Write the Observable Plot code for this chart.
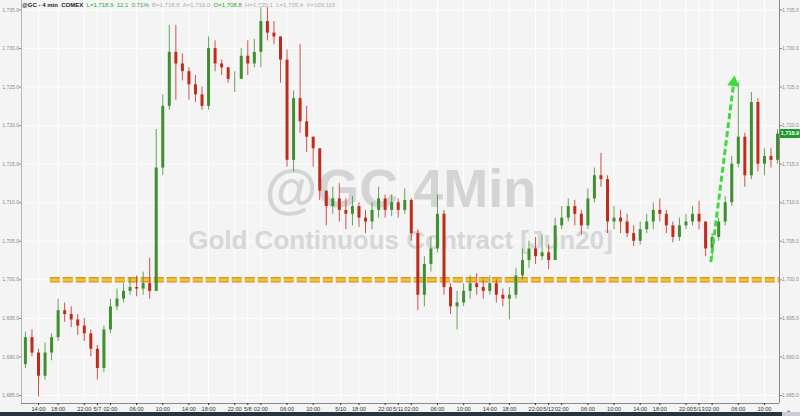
<!DOCTYPE html>
<html><head><meta charset="utf-8">
<script src="https://cdn.jsdelivr.net/npm/d3@7"></script>
<script src="https://cdn.jsdelivr.net/npm/@observablehq/plot@0.6"></script>
<style>
body{margin:0;background:#fff;}
#wrap{position:relative;width:800px;height:416px;overflow:hidden;background:#f4f4f4;font-family:"Liberation Sans",Arial,sans-serif;}
#wrap svg{position:absolute;left:0;top:0;}
#hdr{position:absolute;left:22px;top:1px;font-size:6px;line-height:8px;white-space:pre;color:#333;}
#hdr .g{color:#2fa82f;} #hdr .s{color:#b0b0b0;} #hdr .k{color:#222;font-weight:bold;}
#last{position:absolute;left:780px;width:20px;height:9px;background:#1f9a2c;color:#fff;font-size:5.5px;font-weight:bold;line-height:9px;text-align:center;border-radius:1px;}
#strip{position:absolute;left:0;top:412px;width:782px;height:4px;background:#2b333d;}
#strip2{position:absolute;left:782px;top:412px;width:18px;height:4px;background:#c9ced4;}
</style></head>
<body>
<div id="wrap">
  <div id="hdr"></div>
  <div id="strip"></div><div id="strip2"></div>
</div>
<script>
// ---- data (hourly candles, 5/6 11:30 ET -> 5/13 ~12:30 ET, trading hours only)
const firstOpen = 1689.0;
const closes = [1692.5,1690.5,1687.5,1690.5,1692.5,1696.0,1695.5,1694.8,1694.0,1693.0,
1691.0,1688.5,1693.5,1696.5,1697.5,1698.5,1699.0,1698.8,1699.5,1698.5,
1714.5,1722.5,1729.5,1728.0,1727.0,1725.3,1724.0,1722.5,1730.0,1728.0,
1727.5,1726.0,1726.0,1729.0,1728.0,1729.5,1733.5,1732.0,1731.5,1728.5,
1715.5,1723.5,1720.5,1718.5,1717.0,1711.5,1709.5,1710.5,1709.0,1708.5,
1709.5,1708.0,1707.5,1709.0,1710.5,1709.0,1710.0,1709.0,1710.3,1706.0,
1698.0,1702.0,1704.0,1708.5,1699.0,1696.5,1697.0,1698.5,1699.5,1699.0,
1698.5,1699.5,1698.0,1697.5,1698.0,1700.5,1702.5,1704.0,1703.0,1703.5,
1702.5,1707.0,1708.0,1709.5,1708.5,1707.0,1710.5,1713.5,1713.0,1707.5,
1708.0,1707.5,1706.0,1705.0,1706.5,1707.5,1709.0,1708.5,1707.0,1705.5,
1707.0,1707.5,1708.5,1707.5,1704.0,1705.5,1707.5,1710.0,1715.0,1718.5,
1713.5,1723.0,1715.0,1716.0,1715.5,1718.9];
const highs = [1693.2,1693.5,1691.0,1691.8,1693.0,1697.5,1697.0,1696.5,1695.5,1695.0,
1693.5,1691.5,1694.0,1697.5,1698.8,1699.5,1700.3,1700.5,1701.0,1702.8,
1719.5,1724.0,1733.0,1733.0,1729.3,1727.5,1726.5,1725.0,1731.5,1731.0,
1728.5,1727.5,1727.0,1730.0,1731.0,1731.2,1735.3,1735.3,1733.5,1729.8,
1729.8,1724.5,1730.5,1722.5,1718.5,1716.5,1711.5,1712.0,1712.5,1710.5,
1710.8,1710.0,1709.0,1710.0,1712.0,1711.0,1711.0,1710.5,1711.8,1710.5,
1706.5,1703.0,1705.5,1711.0,1709.0,1699.5,1698.5,1699.5,1700.5,1700.8,
1700.0,1700.5,1700.0,1698.8,1699.0,1701.5,1704.0,1705.0,1705.5,1705.8,
1704.5,1708.0,1709.5,1710.5,1710.3,1709.0,1711.8,1714.5,1716.4,1713.5,
1709.5,1709.0,1708.5,1707.0,1707.5,1708.5,1710.0,1710.5,1709.0,1707.5,
1708.0,1708.5,1709.5,1710.2,1707.5,1706.0,1708.0,1710.8,1716.0,1725.6,
1719.0,1724.3,1723.5,1717.0,1717.0,1719.5];
const lows = [1688.5,1690.0,1684.8,1687.0,1689.5,1692.0,1694.5,1693.8,1692.8,1692.0,
1690.0,1687.0,1688.0,1693.0,1696.0,1697.0,1698.0,1697.8,1698.0,1697.5,
1699.5,1713.5,1722.0,1723.3,1725.8,1723.3,1723.0,1722.0,1722.0,1727.0,
1726.5,1725.5,1724.3,1726.0,1726.5,1727.5,1727.5,1731.0,1730.5,1725.5,
1714.6,1714.0,1719.0,1716.5,1714.6,1710.3,1707.0,1708.5,1707.5,1706.5,
1707.0,1706.8,1706.0,1706.5,1708.0,1708.0,1708.2,1708.0,1708.5,1705.0,
1696.0,1696.5,1701.0,1703.5,1698.0,1695.5,1693.5,1696.5,1697.5,1698.0,
1697.5,1698.0,1697.0,1696.5,1694.8,1697.5,1700.0,1701.5,1702.0,1702.5,
1701.3,1702.5,1706.5,1707.5,1707.0,1705.8,1706.5,1710.0,1712.0,1706.0,
1706.5,1706.0,1705.5,1704.3,1704.5,1706.0,1706.5,1707.5,1706.0,1704.8,
1705.0,1706.5,1707.0,1706.5,1703.0,1702.8,1705.0,1707.0,1709.5,1714.5,
1712.0,1713.0,1714.0,1713.5,1714.5,1715.0];

// x-axis ticks in trading hours since 5/6 11:30 ET
const tickHours = [2.5,5.5,9.5,11.5,13.5,17.5,21.5,25.5,28.5,32.5,34.5,36.5,40.5,44.5,48.7,51.5,55.5,57.5,59.5,63.5,67.5,71.5,74.5,78.5,80.5,82.5,86.5,90.5,94.5,97.5,101.5,103.5,105.5,109.5,113.5];
const tickLabels = ["14:00","18:00","22:00","5/7","02:00","06:00","10:00","14:00","18:00","22:00","5/8","02:00","06:00","10:00","5/10","18:00","22:00","5/11","02:00","06:00","10:00","14:00","18:00","22:00","5/12","02:00","06:00","10:00","14:00","18:00","22:00","5/13","02:00","06:00","10:00"];
const yTicks = [1685,1690,1695,1700,1705,1710,1715,1720,1725,1730,1735];

const supportLevel = 1700;   // dashed orange line
const supportStartHour = 4.3;
const arrowStart = {h: 105.3, p: 1702.3};
const arrowEnd = {h: 108.8, p: 1725.6};
const lastPrice = 1718.9;
const watermark1 = "@GC 4Min";
const watermark2 = "Gold Continuous Contract [Jun20]";

const xDomain = [-0.1, 115.8];
const yDomain = [1683.96, 1736.23];

// ---- build
const candles = closes.map((c, i) => {
  const o = i === 0 ? firstOpen : closes[i - 1];
  return {h: i + 0.5, open: o, close: c,
          high: Math.max(highs[i], o, c), low: Math.min(lows[i], o, c)};
});
const up = "#3f8f2f", down = "#c22a1c";
const col = d => d.close >= d.open ? up : down;
const labelMap = new Map(tickHours.map((h, i) => [h, tickLabels[i]]));
const fmt = d3.format(",.1f");

const plot = Plot.plot({
  width: 800, height: 416,
  marginLeft: 21, marginRight: 21, marginTop: 0, marginBottom: 13,
  style: {background: "transparent", fontFamily: "Liberation Sans, Arial, sans-serif"},
  x: {domain: xDomain, axis: null},
  y: {domain: yDomain, axis: null},
  marks: [
    Plot.gridX(tickHours, {stroke: "#ffffff", strokeOpacity: 1}),
    Plot.gridY(yTicks, {stroke: "#ffffff", strokeOpacity: 0.8}),
    Plot.text([watermark1], {text: d => d, frameAnchor: "middle", dy: -12, fontSize: 54, fontWeight: "bold", fill: "#d4d4d4"}),
    Plot.text([watermark2], {text: d => d, frameAnchor: "middle", dy: 39, fontSize: 26, fontWeight: 600, fill: "#d7d7d7"}),
    Plot.ruleY([supportLevel], {x1: supportStartHour, x2: xDomain[1], stroke: "#d9961c", strokeWidth: 5.5, strokeDasharray: "10,3"}),
    Plot.ruleY([supportLevel], {x1: supportStartHour, x2: xDomain[1], stroke: "#f0c040", strokeWidth: 3, strokeDasharray: "10,3"}),
    Plot.ruleX(candles, {x: "h", y1: "low", y2: "high", stroke: col, strokeWidth: 1, strokeOpacity: 0.8}),
    Plot.ruleX(candles, {x: "h", y1: "open", y2: "close", stroke: col, strokeWidth: 3}),
    Plot.link([{a: arrowStart, b: arrowEnd}], {x1: d => d.a.h, y1: d => d.a.p, x2: d => d.b.h, y2: d => d.b.p,
      stroke: "#3ddc3d", strokeWidth: 3, strokeDasharray: "6,3"}),
    Plot.dot([arrowEnd], {x: "h", y: "p", symbol: "triangle", r: 4.5, fill: "#3ddc3d", rotate: 7}),
    Plot.ruleX([xDomain[0]], {stroke: "#b8b8b8"}),
    Plot.ruleX([xDomain[1]], {stroke: "#8a8a8a", y1: yDomain[0], y2: yDomain[1]}),
    Plot.ruleY([yDomain[0]], {stroke: "#8a8a8a"}),
    Plot.axisY(yTicks, {anchor: "left", tickFormat: fmt, fontSize: 5, tickSize: 2, tickPadding: 0.5, color: "#8a8a8a"}),
    Plot.axisY(yTicks, {anchor: "right", tickFormat: fmt, fontSize: 5, tickSize: 2, tickPadding: 0.5, color: "#8a8a8a"}),
    Plot.axisX(tickHours, {anchor: "bottom", tickFormat: d => labelMap.get(d), fontSize: 5.6, tickSize: 2, tickPadding: 1.5, color: "#333"})
  ]
});
const wrap = document.getElementById("wrap");
wrap.insertBefore(plot, wrap.firstChild);

// header
document.getElementById("hdr").innerHTML =
  '<span class="k">@GC - 4 min  COMEX</span>  <span class="g">L=' + fmt(lastPrice) + '  12.1  0.71%</span>  ' +
  '<span class="s">B=1,718.8  A=1,719.0</span>  <span class="g">O=1,708.8</span>  <span class="s">H=1,720.1  L=1,705.4  V=109,115</span>';

// last price tag
const tag = document.createElement("div");
tag.id = "last";
tag.textContent = fmt(lastPrice);
tag.style.top = (plot.scale("y").apply(lastPrice) - 4.5) + "px";
wrap.appendChild(tag);
</script>
</body></html>
